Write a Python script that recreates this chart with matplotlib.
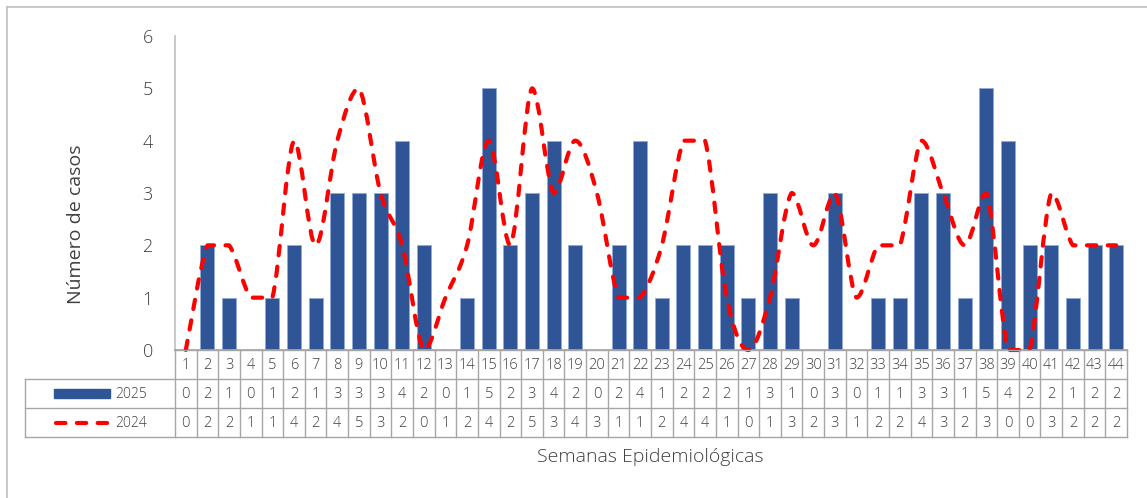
import numpy as np
import matplotlib
matplotlib.use("Agg")
import matplotlib.pyplot as plt
from matplotlib.path import Path
from matplotlib.patches import PathPatch, Rectangle
from matplotlib.lines import Line2D

# ---------------- data ----------------
weeks = list(range(1, 45))
cases_2025 = [0, 2, 1, 0, 1, 2, 1, 3, 3, 3, 4, 2, 0, 1, 5, 2, 3, 4, 2,
              0, 2, 4, 1, 2, 2, 2, 1, 3, 1, 0, 3, 0, 1, 1, 3, 3, 1, 5, 4, 2, 2, 1, 2, 2]
cases_2024 = [0, 2, 2, 1, 1, 4, 2, 4, 5, 3, 2, 0, 1, 2, 4, 2, 5, 3, 4,
              3, 1, 1, 2, 4, 4, 1, 0, 1, 3, 2, 3, 1, 2, 2, 4, 3, 2, 3, 0, 0, 3, 2, 2, 2]
series_labels = ["2025", "2024"]
y_ticks = [0, 1, 2, 3, 4, 5, 6]
y_label = "Número de casos"
x_label = "Semanas Epidemiológicas"

# ---------------- style ----------------
plt.rcParams["font.family"] = ["Open Sans", "DejaVu Sans"]
plt.rcParams["font.weight"] = "light"
BAR = "#2F5597"
RED = "#FF0000"
TXT = "#404040"
GRID = "#A6A6A6"
TFS = 10.5

W, H = 1147, 498
fig = plt.figure(figsize=(W / 100, H / 100), dpi=100)

def px(x0, y0, x1, y1):
    return [x0 / W, 1 - y1 / H, (x1 - x0) / W, (y1 - y0) / H]

# outer frame (top and left edges)
fig.add_artist(Line2D([7 / W, 1], [1 - 7 / H, 1 - 7 / H], color="#BFBFBF", lw=1.2))
fig.add_artist(Line2D([7 / W, 7 / W], [0, 1 - 7 / H], color="#BFBFBF", lw=1.2))

X0, X1 = 175, 1127
ax = fig.add_axes(px(X0, 36, X1, 350))
x = np.array(weeks, dtype=float)
ax.bar(x, cases_2025, width=0.65, color=BAR, edgecolor="#8EA9DB", linewidth=0.6, zorder=2)

# smoothed line (cubic Bezier through the points, control points kept
# inside each segment's value range so that it does not overshoot)
y = np.array(cases_2024, dtype=float)
pts = np.column_stack([x, y])
ext = np.vstack([pts[0], pts, pts[-1]])
verts = [tuple(pts[0])]
codes = [Path.MOVETO]
for i in range(len(pts) - 1):
    p0, p1, p2, p3 = ext[i], ext[i + 1], ext[i + 2], ext[i + 3]
    c1 = p1 + (p2 - p0) / 6.0
    c2 = p2 - (p3 - p1) / 6.0
    lo, hi = min(p1[1], p2[1]), max(p1[1], p2[1])
    c1[1] = np.clip(c1[1], lo, hi)
    c2[1] = np.clip(c2[1], lo, hi)
    verts += [tuple(c1), tuple(c2), tuple(p2)]
    codes += [Path.CURVE4] * 3
patch = PathPatch(Path(verts, codes), fill=False, edgecolor=RED, lw=3.0,
                  linestyle=(0, (2.25, 2.75)), capstyle="round", joinstyle="round",
                  zorder=3, clip_on=False)
ax.add_patch(patch)

ax.set_xlim(0.5, 44.5)
ax.set_ylim(0, 6)
ax.set_yticks(y_ticks)
ax.set_yticklabels([str(t) for t in y_ticks], fontsize=13, color=TXT)
ax.tick_params(axis="y", length=0, pad=16)
ax.set_xticks([])
for s in ["top", "right"]:
    ax.spines[s].set_visible(False)
ax.spines["left"].set_color("#BFBFBF")
ax.spines["bottom"].set_color(GRID)
ax.spines["left"].set_linewidth(1.2)
ax.spines["bottom"].set_linewidth(1.2)
ax.set_ylabel(y_label, fontsize=14, color=TXT)
ax.yaxis.set_label_coords(-(X0 - 85) / (X1 - X0), (350 - 224) / (350 - 36))

# ---------------- data table ----------------
tx = fig.add_axes(px(X0, 350, X1, 437))
tx.set_xlim(0.5, 44.5)
tx.set_ylim(3, 0)
tx.axis("off")
unit = (X1 - X0) / 44.0
leg_left = 0.5 - (X0 - 25) / unit
lc = dict(color=GRID, lw=1.0, clip_on=False)
tx.plot([0.5, 44.5], [0, 0], **lc)
for yy in (1, 2, 3):
    tx.plot([leg_left, 44.5], [yy, yy], **lc)
for k in range(45):
    tx.plot([0.5 + k, 0.5 + k], [0, 3], **lc)
tx.plot([leg_left, leg_left], [1, 3], **lc)

for i, w in enumerate(weeks):
    tx.text(w, 0.52, str(w), ha="center", va="center", fontsize=TFS, color=TXT)
    tx.text(w, 1.52, str(cases_2025[i]), ha="center", va="center", fontsize=TFS, color=TXT)
    tx.text(w, 2.52, str(cases_2024[i]), ha="center", va="center", fontsize=TFS, color=TXT)

# legend keys
k0 = leg_left + (54 - 25) / unit
k1 = leg_left + (110 - 25) / unit
tx.add_patch(Rectangle((k0, 1.33), k1 - k0, 0.32, color=BAR, clip_on=False))
tx.add_line(Line2D([k0 + 0.08, k1 - 0.08], [2.5, 2.5], color=RED, lw=3.0,
                   linestyle=(0, (2.25, 2.75)), dash_capstyle="round", clip_on=False))
lab_x = leg_left + (147 - 25) / unit
tx.text(lab_x, 1.52, series_labels[0], ha="right", va="center", fontsize=10, color=TXT)
tx.text(lab_x, 2.52, series_labels[1], ha="right", va="center", fontsize=10, color=TXT)

fig.text(650 / W, 1 - 457 / H, x_label, ha="center", va="center", fontsize=14, color=TXT)

fig.savefig("out.png", dpi=100)
